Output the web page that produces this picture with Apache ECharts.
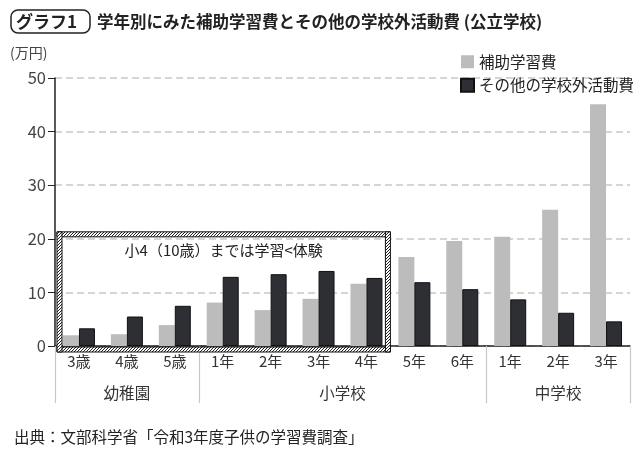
<!DOCTYPE html>
<html><head><meta charset="utf-8">
<script src="https://cdn.jsdelivr.net/npm/echarts@6/dist/echarts.min.js"></script>
<style>html,body{margin:0;padding:0;background:#fff}#c{width:640px;height:453px}</style>
</head><body><div id="c"></div>
<script>
const categories = ['3歳','4歳','5歳','1年','2年','3年','4年','5年','6年','1年','2年','3年'];
const groupLabels = ['', '幼稚園', '', '', '小学校', '', '', '中学校', ''];
const groupSeparators = [0, 2, 6, 8];
const hojo = [2.0, 2.2, 3.9, 8.1, 6.7, 8.8, 11.6, 16.6, 19.6, 20.4, 25.4, 45.1];
const other = [3.3, 5.5, 7.5, 12.9, 13.4, 14.0, 12.7, 11.9, 10.6, 8.7, 6.2, 4.6];
const seriesNames = ['補助学習費', 'その他の学校外活動費'];
const yMin = 0, yMax = 50, yStep = 10;
const boxFirstCat = 0, boxLastCat = 6, boxTopValue = 21.3;
const titleTag = 'グラフ1';
const titleText = '学年別にみた補助学習費とその他の学校外活動費 (公立学校)';
const unitText = '(万円)';
const boxText = '小4（10歳）までは学習<体験';
const sourceText = '出典：文部科学省「令和3年度子供の学習費調査」';

const FONT = '"Noto Sans CJK JP", "Noto Sans", sans-serif';
const chart = echarts.init(document.getElementById('c'), null, {renderer: 'canvas'});

chart.setOption({
  animation: false,
  textStyle: {fontFamily: FONT},
  grid: {left: 55, right: 10, top: 78, bottom: 107},
  legend: {
    orient: 'vertical', left: 455, top: 49, itemWidth: 13, itemHeight: 13, itemGap: 8,
    icon: 'rect',
    textStyle: {fontSize: 15.5, color: '#222', fontFamily: FONT},
    data: seriesNames
  },
  xAxis: [{
    type: 'category', data: categories, position: 'bottom',
    axisLine: {lineStyle: {color: '#222', width: 1.5}},
    axisTick: {show: false},
    axisLabel: {interval: 0, margin: 8, fontSize: 15, color: '#333', fontFamily: FONT}
  }, {
    type: 'category', data: groupLabels, position: 'bottom', boundaryGap: false,
    axisLine: {show: false},
    axisTick: {show: true, length: 57, lineStyle: {color: '#c8c8c8', width: 1.2},
      interval: function (i) { return groupSeparators.indexOf(i) >= 0; }},
    axisLabel: {interval: 0, margin: 39, fontSize: 15.5, color: '#333', fontFamily: FONT}
  }],
  yAxis: {
    type: 'value', min: yMin, max: yMax, interval: yStep,
    axisLine: {show: true, lineStyle: {color: '#222', width: 1.5}},
    axisTick: {show: true, length: 7, lineStyle: {color: '#222'}},
    axisLabel: {margin: 9, fontSize: 16.5, color: '#444', fontFamily: FONT},
    splitLine: {lineStyle: {color: '#c8c8c8', width: 1.5, type: [7, 4]}}
  },
  series: [{
    name: seriesNames[0], type: 'bar', data: hojo, barWidth: 16, barGap: '0%',
    itemStyle: {color: '#bcbcbc'}
  }, {
    name: seriesNames[1], type: 'bar', data: other, barWidth: 16, barGap: '0%',
    itemStyle: {color: '#2e2f34', borderColor: '#111', borderWidth: 1}
  }]
});

// hatch pattern
const pc = document.createElement('canvas');
pc.width = 3; pc.height = 3;
const g = pc.getContext('2d');
g.fillStyle = '#fff'; g.fillRect(0, 0, 3, 3);
g.strokeStyle = '#222'; g.lineWidth = 1;
g.beginPath();
g.moveTo(-1, 4); g.lineTo(4, -1);
g.moveTo(2, 4); g.lineTo(4, 2);
g.stroke();
const hatch = {image: pc, repeat: 'repeat'};

const cx0 = chart.convertToPixel({xAxisIndex: 0}, boxFirstCat);
const cx1 = chart.convertToPixel({xAxisIndex: 0}, boxFirstCat + 1);
const cw = cx1 - cx0;
const bL = cx0 - cw / 2 + 2;
const bR = (chart.convertToPixel({xAxisIndex: 0}, boxLastCat) + chart.convertToPixel({xAxisIndex: 0}, boxLastCat + 1)) / 2;
const bT = chart.convertToPixel({yAxisIndex: 0}, boxTopValue);
const bB = chart.convertToPixel({yAxisIndex: 0}, 0) + 6;
const sw = 5;
function strip(x, y, w, h) {
  return {type: 'rect', z: 10, shape: {x: x, y: y, width: w, height: h},
    style: {fill: hatch, stroke: '#111', lineWidth: 1}};
}

chart.setOption({
  graphic: [
    {type: 'rect', shape: {x: 11, y: 10, width: 79, height: 23, r: 7},
      style: {fill: 'none', stroke: '#222', lineWidth: 1.5}},
    {type: 'text', x: 16, y: 22, style: {text: titleTag, font: 'bold 17px ' + FONT, fill: '#222', verticalAlign: 'middle'}},
    {type: 'text', x: 97, y: 22, style: {text: titleText, font: 'bold 16.5px ' + FONT, fill: '#222', verticalAlign: 'middle'}},
    {type: 'text', x: 10, y: 53, style: {text: unitText, font: '14px ' + FONT, fill: '#444', verticalAlign: 'middle'}},
    {type: 'text', x: 14, y: 437, style: {text: sourceText, font: '15.5px ' + FONT, fill: '#222', verticalAlign: 'middle'}},
    strip(bL, bT, bR - bL, sw),
    strip(bL, bB - sw, bR - bL, sw),
    strip(bL, bT, sw, bB - bT),
    strip(bR - sw, bT, sw, bB - bT),
    {type: 'text', z: 11, x: (bL + bR) / 2, y: bT + 18,
      style: {text: boxText, font: '15px ' + FONT, fill: '#222', align: 'center', verticalAlign: 'middle'}}
  ]
});
</script>
</body></html>
